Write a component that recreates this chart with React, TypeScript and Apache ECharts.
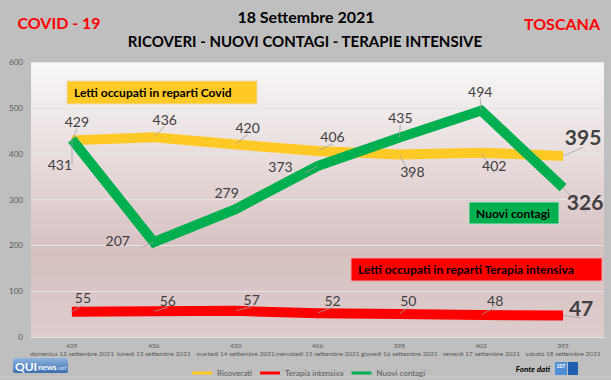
import React, { useEffect, useRef } from "react";
import * as echarts from "echarts";

const categories = [
  "domenica 12 settembre 2021",
  "lunedì 13 settembre 2021",
  "martedì 14 settembre 2021",
  "mercoledì 15 settembre 2021",
  "giovedì 16 settembre 2021",
  "venerdì 17 settembre 2021",
  "sabato 18 settembre 2021",
];
const ricoverati = [429, 436, 420, 406, 398, 402, 395];
const terapiaIntensiva = [55, 56, 57, 52, 50, 48, 47];
const nuoviContagi = [431, 207, 279, 373, 435, 494, 326];
const yTicks = { min: 0, max: 600, interval: 100 };

// label offsets (style only)
const offRic = [[5, -19], [11, -18], [12, -17], [15, -14], [13, 17], [13, 13], [20, -19]];
const offNc = [[-12, 25], [-36, -2], [-9, -17], [-37, 0], [1, -20], [-1, -19], [22, 14]];
const offTi = [[11, -14], [14, -11], [16, -11], [15, -13], [9, -14], [14, -15], [18, -8]];

const FONT = "Lato";
const LBL = "#404040";

function mkData(vals: number[], offs: number[][]) {
  return vals.map((v, i) => {
    const last = i === vals.length - 1;
    return {
      value: v,
      label: {
        show: true,
        position: "inside",
        offset: offs[i],
        fontSize: last ? 21 : 14,
        fontWeight: last ? "bold" : "normal",
        color: LBL,
        fontFamily: FONT,
      },
    };
  });
}

function mkSeries(name: string, vals: number[], offs: number[][], color: string, z: number) {
  return {
    name,
    type: "line",
    data: mkData(vals, offs),
    symbol: "circle",
    symbolSize: 1,
    showSymbol: true,
    itemStyle: { color },
    lineStyle: { color, width: 10, cap: "butt", join: "miter" },
    labelLine: { show: true, length2: 0, lineStyle: { color: "#a0a0a0", width: 0.8 } },
    z,
    emphasis: { disabled: true },
  };
}

function box(x: number, y: number, w: number, h: number, fill: string, stroke: string, text: string, tx: number) {
  return {
    type: "group",
    children: [
      { type: "rect", shape: { x, y, width: w, height: h }, style: { fill, stroke, lineWidth: 1 } },
      {
        type: "text",
        x: tx,
        y: y + h / 2,
        style: {
          text,
          fill: "#000",
          font: `bold 12px ${FONT}`,
          textAlign: "left",
          textVerticalAlign: "middle",
        },
      },
    ],
  };
}

export default function App() {
  const ref = useRef<HTMLDivElement>(null);
  useEffect(() => {
    if (!ref.current) return;
    const chart = echarts.init(ref.current, undefined, { renderer: "svg" });
    chart.setOption({
      animation: false,
      backgroundColor: "#bfbfbf",
      textStyle: { fontFamily: FONT },
      grid: {
        left: 31,
        right: 7,
        top: 62,
        bottom: 43,
        show: true,
        borderWidth: 0,
        backgroundColor: {
          type: "linear",
          x: 0,
          y: 0,
          x2: 0,
          y2: 1,
          colorStops: [
            { offset: 0, color: "#f8f7f7" },
            { offset: 0.35, color: "#e8dcdc" },
            { offset: 0.7, color: "#d6c0c0" },
            { offset: 1, color: "#decdcd" },
          ],
        },
      },
      legend: {
        left: 187,
        top: 364,
        icon: "rect",
        itemWidth: 20,
        itemHeight: 3,
        itemGap: 8,
        textStyle: { fontSize: 8, color: "#595959", fontFamily: FONT },
        data: ["Ricoverati", "Terapia intensiva", "Nuovi contagi"],
      },
      xAxis: {
        type: "category",
        data: categories,
        boundaryGap: true,
        axisLine: { show: false },
        axisTick: { show: false },
        axisLabel: {
          interval: 0,
          margin: 4,
          fontSize: 6.5,
          lineHeight: 8,
          color: "#595959",
          fontFamily: FONT,
          formatter: (val: string, idx: number) => `${ricoverati[idx]}\n${val}`,
        },
      },
      yAxis: {
        type: "value",
        min: yTicks.min,
        max: yTicks.max,
        interval: yTicks.interval,
        axisLine: { show: false },
        axisTick: { show: false },
        axisLabel: { fontSize: 8, color: "#595959", margin: 8, fontFamily: FONT },
        splitLine: { lineStyle: { color: "#ebe4e4", width: 1 } },
      },
      series: [
        mkSeries("Ricoverati", ricoverati, offRic, "#ffc926", 2),
        mkSeries("Terapia intensiva", terapiaIntensiva, offTi, "#ff0000", 3),
        mkSeries("Nuovi contagi", nuoviContagi, offNc, "#00b050", 4),
      ],
      graphic: [
        {
          type: "text",
          x: 59,
          y: 22,
          style: { text: "COVID - 19", fill: "#ff0000", font: `bold 16px ${FONT}`, textAlign: "center", textVerticalAlign: "middle" },
        },
        {
          type: "text",
          x: 306,
          y: 16,
          style: { text: "18 Settembre 2021", fill: "#000", font: `bold 16px ${FONT}`, textAlign: "center", textVerticalAlign: "middle" },
        },
        {
          type: "text",
          x: 305,
          y: 41,
          style: {
            text: "RICOVERI - NUOVI CONTAGI - TERAPIE INTENSIVE",
            fill: "#000",
            font: `bold 15px ${FONT}`,
            textAlign: "center",
            textVerticalAlign: "middle",
          },
        },
        {
          type: "text",
          x: 562,
          y: 23,
          style: { text: "TOSCANA", fill: "#ff0000", font: `bold 16px ${FONT}`, textAlign: "center", textVerticalAlign: "middle" },
        },
        box(67, 81, 190, 23, "#ffc926", "#e9dcb0", "Letti occupati in reparti Covid", 74),
        box(469, 202, 90, 22, "#00b050", "#b8e0c8", "Nuovi contagi", 476),
        box(351, 258, 251, 23, "#ff0000", "#f0a0a0", "Letti occupati in reparti Terapia intensiva", 358),
        // QUInews logo
        {
          type: "group",
          children: [
            {
              type: "rect",
              shape: { x: 13, y: 358, width: 55, height: 15, r: 2 },
              style: {
                fill: {
                  type: "linear",
                  x: 0,
                  y: 0,
                  x2: 0,
                  y2: 1,
                  colorStops: [
                    { offset: 0, color: "#8fb4e0" },
                    { offset: 1, color: "#3c6fb0" },
                  ],
                },
              },
            },
            {
              type: "text",
              x: 15,
              y: 366,
              style: { text: "QUI", fill: "#fff", font: `bold 12px ${FONT}`, textVerticalAlign: "middle" },
            },
            {
              type: "text",
              x: 38,
              y: 367,
              style: { text: "news", fill: "#fff", font: `bold 8px ${FONT}`, textVerticalAlign: "middle" },
            },
            {
              type: "text",
              x: 57,
              y: 367,
              style: { text: ".net", fill: "#cfe0f5", font: `italic 6px ${FONT}`, textVerticalAlign: "middle" },
            },
          ],
        },
        {
          type: "text",
          x: 550,
          y: 369,
          style: { text: "Fonte dati", fill: "#000", font: `italic bold 8px ${FONT}`, textAlign: "right", textVerticalAlign: "middle" },
        },
        {
          type: "group",
          children: [
            { type: "rect", shape: { x: 555, y: 362, width: 12, height: 13 }, style: { fill: "#4f8fd8" } },
            { type: "rect", shape: { x: 568, y: 362, width: 10, height: 13 }, style: { fill: "#1f5fb0" } },
            {
              type: "text",
              x: 561,
              y: 366,
              style: { text: "SST", fill: "#fff", font: `bold 5px ${FONT}`, textAlign: "center", textVerticalAlign: "middle" },
            },
          ],
        },
        {
          type: "line",
          shape: { x1: 0, y1: 377, x2: 611, y2: 377 },
          style: { stroke: "#cfcfcf", lineWidth: 1 },
        },
      ],
    });
    return () => chart.dispose();
  }, []);
  return <div ref={ref} style={{ position: "absolute", left: 0, top: 0, width: 611, height: 380 }} />;
}
